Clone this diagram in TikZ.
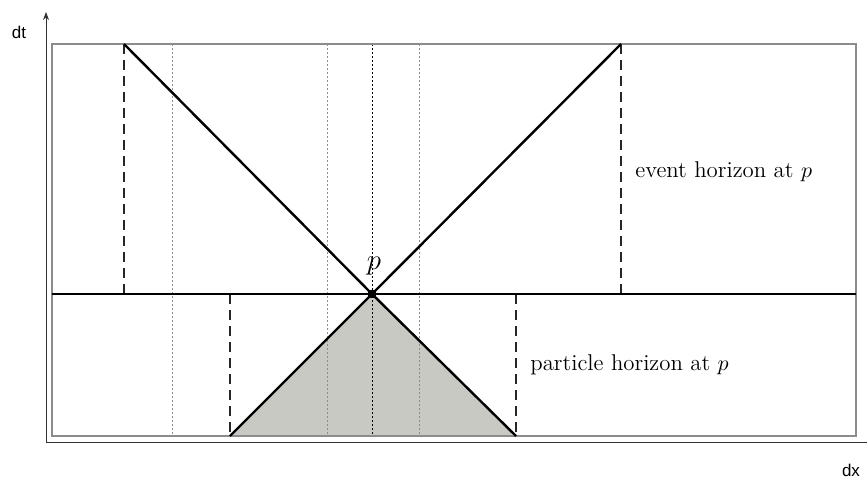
\documentclass[tikz,border=0pt]{standalone}
\usepackage{fontspec}
\newfontfamily\axisfont{Liberation Sans}
\usetikzlibrary{arrows.meta}
\begin{document}
\begin{tikzpicture}[x=0.5pt,y=-0.5pt,
  frame/.style={draw=black!45, line width=1pt},
  heavy/.style={draw=black, line width=1.2pt},
  vdash/.style={draw=black!85, line width=1pt, dash pattern=on 5pt off 3pt},
  graydot/.style={draw=black!45, line width=0.5pt, dash pattern=on 0.8pt off 1.2pt},
  blackdot/.style={draw=black, line width=0.5pt, dash pattern=on 0.8pt off 1.2pt},
  axisline/.style={draw=black!80, line width=0.5pt},
  lbl/.style={font=\fontsize{11.4}{13}\selectfont, anchor=west, inner sep=0pt},
  axlbl/.style={font=\axisfont\fontsize{8.5}{10}\selectfont, inner sep=0pt}]
\useasboundingbox (0,0) rectangle (867,482);
% key points
\coordinate (o) at (46,442);
\coordinate (ytop) at (46,12);
\coordinate (xend) at (867,442);
\coordinate (bl) at (52,436);
\coordinate (tr) at (856,44);
\coordinate (hl) at (52,294);
\coordinate (hr) at (856,294);
\coordinate (el) at (124,44);
\coordinate (er) at (621,44);
\coordinate (elb) at (124,294);
\coordinate (erb) at (621,294);
\coordinate (pl) at (230,436);
\coordinate (pr) at (516,436);
\coordinate (plt) at (230,294);
\coordinate (prt) at (516,294);
\coordinate (d1t) at (172,44); \coordinate (d1b) at (172,436);
\coordinate (d2t) at (327,44); \coordinate (d2b) at (327,436);
\coordinate (d3t) at (372,44); \coordinate (d3b) at (372,436);
\coordinate (d4t) at (419,44); \coordinate (d4b) at (419,436);
\coordinate (pc) at (372,294);
% shaded particle cone
\fill[fill={rgb,255:red,200;green,201;blue,194}] (pc) -- (pl) -- (pr) -- cycle;
% dotted verticals
\draw[graydot] (d1t) -- (d1b);
\draw[graydot] (d2t) -- (d2b);
\draw[graydot] (d4t) -- (d4b);
\draw[blackdot] (d3t) -- (d3b);
% dashed verticals
\draw[vdash] (el) -- (elb);
\draw[vdash] (er) -- (erb);
\draw[vdash] (plt) -- (pl);
\draw[vdash] (prt) -- (pr);
% frame
\draw[frame] (bl) rectangle (tr);
% horizontal line through p
\draw[heavy] (hl) -- (hr);
% cones
\draw[heavy] (el) -- (pc) -- (er);
\draw[heavy] (pl) -- (pc) -- (pr);
\node[fill=black, minimum size=4pt, inner sep=0pt] (p) at (pc) {};
\node[font=\fontsize{14}{16}\selectfont, inner sep=0pt] (plabel) at (374,266) {$p$};
% labels
\node[lbl] (ev) at (635,172) {event horizon at $p$};
\node[lbl] (pa) at (530,365) {particle horizon at $p$};
% axes
\draw[axisline, -{Stealth[length=4pt,width=3pt]}] (o) -- (ytop);
\draw[axisline] (o) -- (xend);
\node[axlbl] (dt) at (19,32) {dt};
\node[axlbl] (dx) at (851,470) {dx};
\end{tikzpicture}
\end{document}
